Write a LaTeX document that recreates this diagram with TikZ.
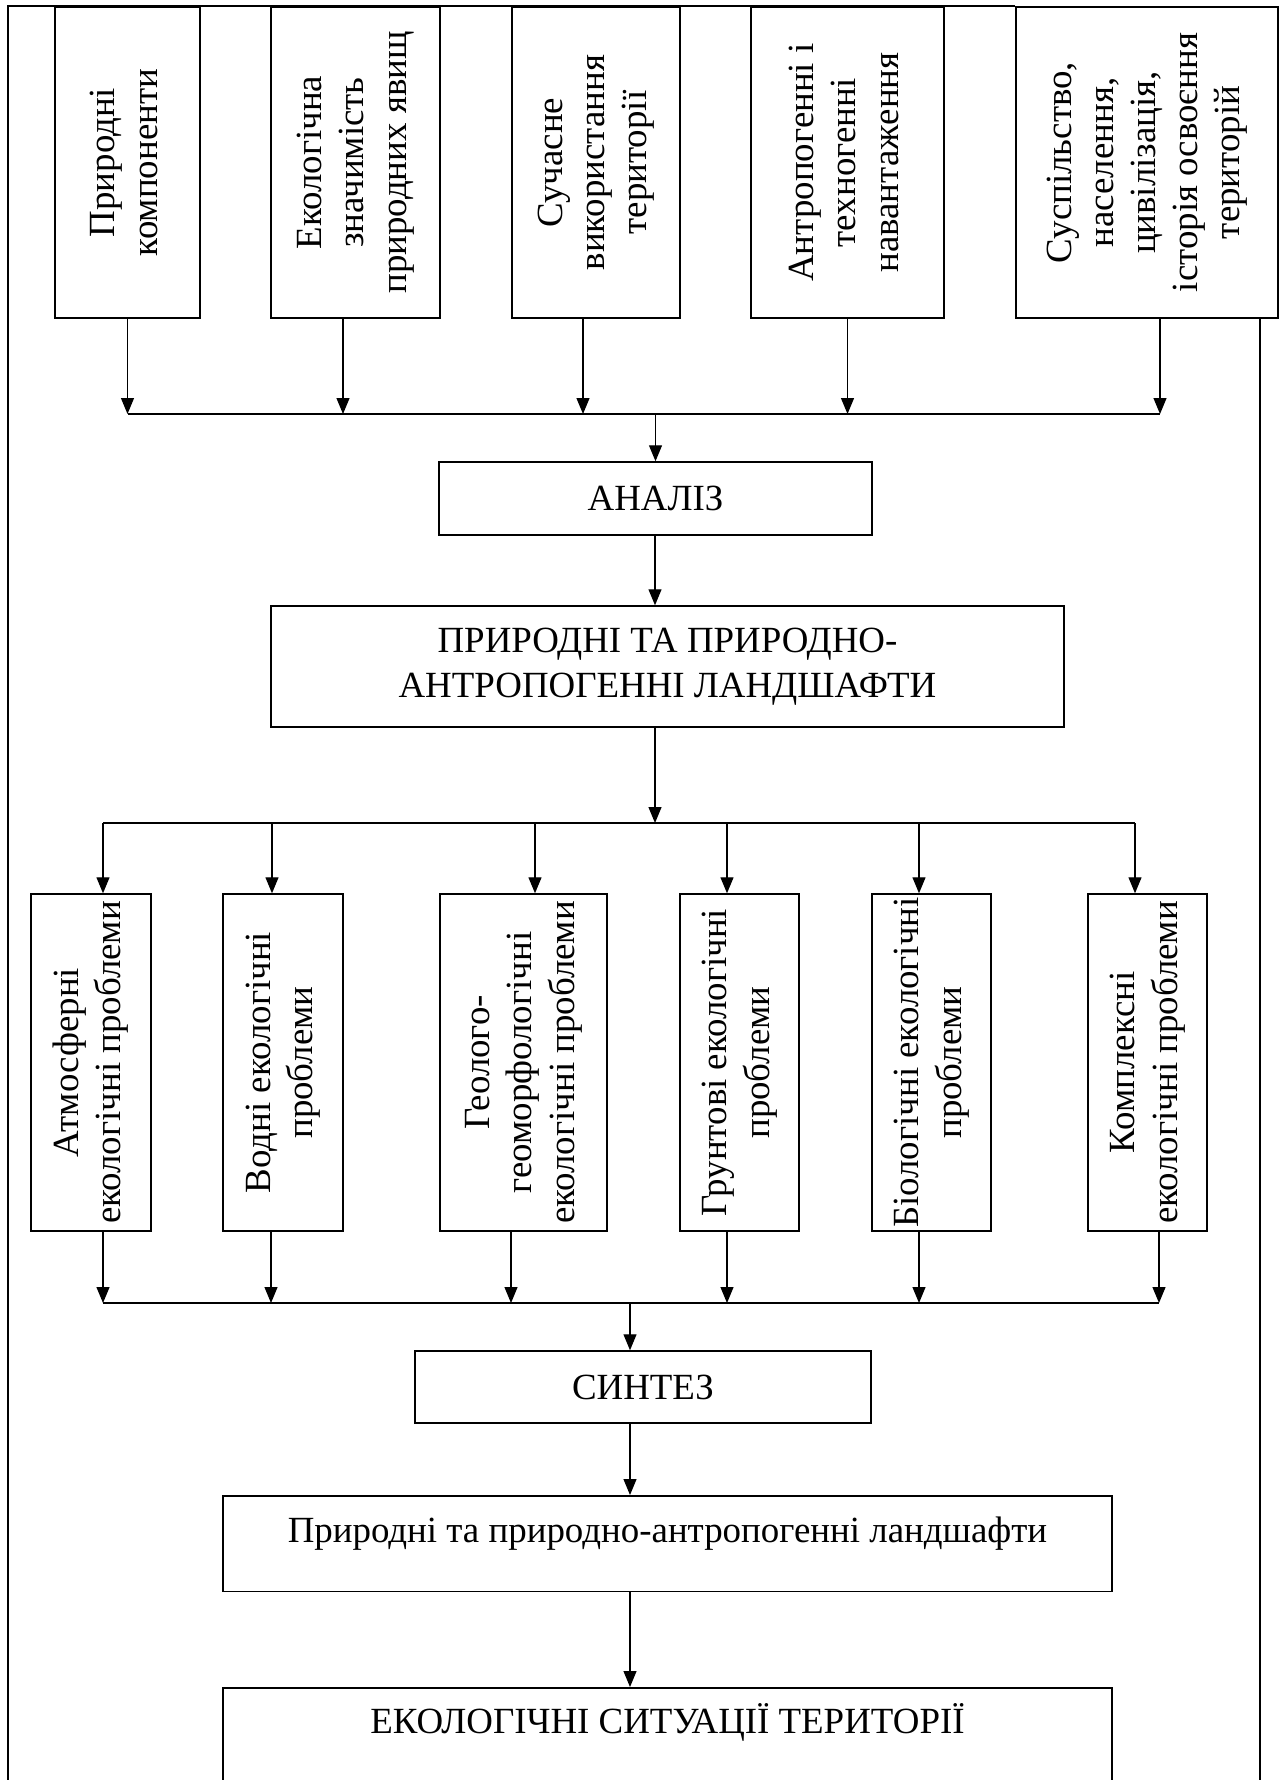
\documentclass[tikz,border=0pt]{standalone}
\usepackage{fontspec}
\setmainfont{Liberation Serif}
\usetikzlibrary{arrows.meta, calc}
\newcommand\boxfont{\fontsize{21}{24}\selectfont}
\newcommand\vtext[1]{\rotatebox{90}{\begin{tabular}{@{}c@{}}#1\end{tabular}}}

\begin{document}
\begin{tikzpicture}[
        x=0.02cm, y=-0.02cm,
        box/.style={
            rectangle,
            draw=black,
            line width=0.85pt,
            inner sep=0pt,
            align=center,
            font=\boxfont
        },
        topbox/.style={box, minimum height=6.22cm},
        probbox/.style={box, minimum height=6.74cm},
        arrow/.style={line width=0.7pt,-{Triangle[length=0.32cm,width=0.26cm]}},
        bus/.style={line width=1.1pt},
        frame/.style={line width=1.1pt}
    ]
    \useasboundingbox (0,0) rectangle (1279,1780);

    % Top Row
    \node (comp) [topbox, minimum width=2.9cm] at (127.5,162.5) {\vtext{Природні\\компоненти}};
    \node (sign) [topbox, minimum width=3.38cm] at (355.5,162.5) {\vtext{Екологічна\\значимість\\природних явищ}};
    \node (use) [topbox, minimum width=3.36cm] at (596,162.5) {\vtext{Сучасне\\використання\\території}};
    \node (load) [topbox, minimum width=3.86cm] at (847.5,162.5) {\vtext{Антропогенні і\\техногенні\\навантаження}};
    \node (soc) [topbox, minimum width=5.24cm] at (1147,162.5) {\vtext{Суспільство,\\населення,\\цивілізація,\\історія освоєння\\територій}};

    % Middle
    \node (an) [box, minimum width=8.66cm, minimum height=1.46cm] at (655.5,498.5) {АНАЛІЗ};
    \node (land) [box, minimum width=15.86cm, minimum height=2.42cm] at (667.5,666.5) {ПРИРОДНІ ТА ПРИРОДНО-\\[1.5pt]АНТРОПОГЕННІ ЛАНДШАФТИ};

    % Problems Row
    \node (atm) [probbox, minimum width=2.4cm] at (91,1062.5) {\vtext{Атмосферні\\екологічні проблеми}};
    \node (water) [probbox, minimum width=2.4cm] at (283,1062.5) {\vtext{Водні екологічні\\проблеми}};
    \node (geo) [probbox, minimum width=3.34cm] at (523.5,1062.5) {\vtext{Геолого-\\геоморфологічні\\екологічні проблеми}};
    \node (soil) [probbox, minimum width=2.38cm] at (739.5,1062.5) {\vtext{Грунтові екологічні\\проблеми}};
    \node (bio) [probbox, minimum width=2.38cm] at (931.5,1062.5) {\vtext{Біологічні екологічні\\проблеми}};
    \node (cplx) [probbox, minimum width=2.38cm] at (1147.5,1062.5) {\vtext{Комплексні\\екологічні проблеми}};

    % Bottom
    \node (synth) [box, minimum width=9.12cm, minimum height=1.44cm] at (643,1387) {СИНТЕЗ};
    \node (nat) [box, anchor=north, minimum width=17.78cm, text height=0.94cm, text depth=0.98cm] at (667.5,1495) {Природні та природно-антропогенні ландшафти};
    \node (sit) [box, anchor=north, minimum width=17.78cm, text height=0.92cm, text depth=1.4cm] at (667.5,1687) {ЕКОЛОГІЧНІ СИТУАЦІЇ ТЕРИТОРІЇ};

    % Buses
    \coordinate (busA) at (0,414);
    \coordinate (busB) at (0,823);
    \coordinate (busC) at (0,1303);

    % Arrows
    \foreach \n/\dx in {comp/0, sign/-12.5, use/-13, load/0, soc/13} {
        \coordinate (\n-out) at ($(\n.south)+(\dx,0)$);
        \draw[arrow] (\n-out) -- (\n-out |- busA);
    }
    \draw[bus] (comp-out |- busA) -- (soc-out |- busA);
    \draw[arrow] (an.north |- busA) -- (an.north);
    \coordinate (an-out) at ($(an.south)+(-0.5,0)$);
    \draw[arrow] (an-out) -- (an-out |- land.north);
    \coordinate (land-out) at ($(land.south)+(-12.5,0)$);
    \draw[arrow] (land-out) -- (land-out |- busB);

    \foreach \n/\din/\dout in {atm/12/12, water/-11/-12, geo/11.5/-12.5, soil/-12.5/-12.5, bio/-12.5/-12.5, cplx/-12.5/11.5} {
        \coordinate (\n-in) at ($(\n.north)+(\din,0)$);
        \coordinate (\n-out) at ($(\n.south)+(\dout,0)$);
        \draw[arrow] (\n-in |- busB) -- (\n-in);
        \draw[arrow] (\n-out) -- (\n-out |- busC);
    }
    \draw[bus] (atm-in |- busB) -- (cplx-in |- busB);
    \draw[bus] (atm-out |- busC) -- (cplx-out |- busC);

    \coordinate (synth-in) at ($(synth.north)+(-13,0)$);
    \draw[arrow] (synth-in |- busC) -- (synth-in);
    \coordinate (synth-out) at ($(synth.south)+(-13,0)$);
    \draw[arrow] (synth-out) -- (synth-out |- nat.north);
    \coordinate (nat-out) at ($(nat.south)+(-37.5,0)$);
    \draw[arrow] (nat-out) -- (nat-out |- sit.north);

    % Frame
    \coordinate (frameL) at (8,1800);
    \coordinate (frameR) at (1260,1800);
    \draw[frame] (frameL) |- (soc.north west);
    \draw[frame] (frameR |- soc.south) -- (frameR);

\end{tikzpicture}
\end{document}
